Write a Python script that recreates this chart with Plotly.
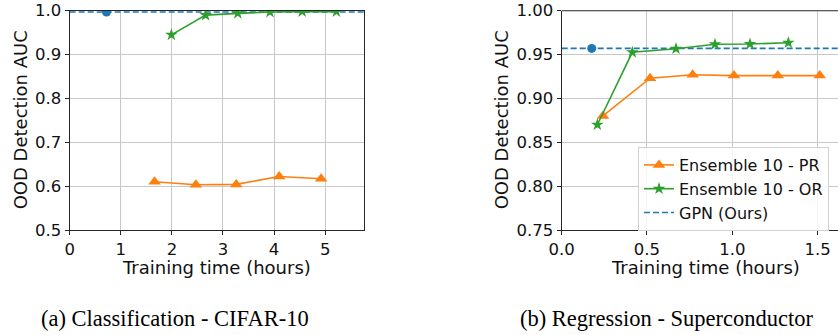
import plotly.graph_objects as go

# ---------------- data ----------------
# (a) Classification - CIFAR-10
a_pr_x = [1.66, 2.47, 3.26, 4.10, 4.92]
a_pr_y = [0.610, 0.603, 0.604, 0.622, 0.617]
a_or_x = [1.99, 2.66, 3.29, 3.92, 4.55, 5.22]
a_or_y = [0.945, 0.990, 0.994, 0.997, 0.998, 0.998]
a_gpn_x = [0.72]
a_gpn_y = [0.997]

# (b) Regression - Superconductor
b_pr_x = [0.242, 0.518, 0.768, 1.010, 1.267, 1.513]
b_pr_y = [0.880, 0.923, 0.927, 0.926, 0.926, 0.926]
b_or_x = [0.209, 0.414, 0.670, 0.899, 1.104, 1.329]
b_or_y = [0.870, 0.9526, 0.9567, 0.9617, 0.962, 0.9635]
b_gpn_x = [0.176]
b_gpn_y = [0.957]

a_xticks = [0, 1, 2, 3, 4, 5]
a_yticks = [0.5, 0.6, 0.7, 0.8, 0.9, 1.0]
b_xticks = [0.0, 0.5, 1.0, 1.5]
b_yticks = [0.75, 0.80, 0.85, 0.90, 0.95, 1.00]

labels = ["Ensemble 10 - PR", "Ensemble 10 - OR", "GPN (Ours)"]
captions = ["(a) Classification - CIFAR-10", "(b) Regression - Superconductor"]
x_title = "Training time (hours)"
y_title = "OOD Detection AUC"

a_xrange = [0, 5.76]
a_yrange = [0.5, 1.0]
b_xrange = [0, 1.62]
b_yrange = [0.75, 1.0]

ORANGE = "#ff7f0e"
GREEN = "#2ca02c"
BLUE = "#1f77b4"

W, H = 838, 335
FONT = "DejaVu Sans"
TICK_SIZE = 16.5
TITLE_SIZE = 18
LEG_SIZE = 16

fig = go.Figure()

def add_panel(xa, ya, pr_x, pr_y, or_x, or_y, gx, gy, xr, showleg):
    fig.add_trace(go.Scatter(
        x=[xr[0], xr[1]], y=[gy[0], gy[0]], mode="lines",
        line=dict(color=BLUE, width=1.6, dash="6px,3px"),
        xaxis=xa, yaxis=ya, name=labels[2], showlegend=False))
    fig.add_trace(go.Scatter(
        x=pr_x, y=pr_y, mode="lines+markers",
        line=dict(color=ORANGE, width=1.6),
        marker=dict(symbol="triangle-up", size=11, color=ORANGE),
        xaxis=xa, yaxis=ya, name=labels[0], showlegend=showleg, legendrank=1))
    fig.add_trace(go.Scatter(
        x=or_x, y=or_y, mode="lines+markers",
        line=dict(color=GREEN, width=1.6),
        marker=dict(symbol="star", size=9.5, color=GREEN),
        xaxis=xa, yaxis=ya, name=labels[1], showlegend=showleg, legendrank=2))
    fig.add_trace(go.Scatter(
        x=gx, y=gy, mode="markers",
        marker=dict(symbol="circle", size=9, color=BLUE),
        xaxis=xa, yaxis=ya, name=labels[2], showlegend=False))
    if showleg:
        fig.add_trace(go.Scatter(
            x=[None], y=[None], mode="lines",
            line=dict(color=BLUE, width=1.6, dash="6px,3px"),
            xaxis=xa, yaxis=ya, name=labels[2], showlegend=True, legendrank=3))

add_panel("x", "y", a_pr_x, a_pr_y, a_or_x, a_or_y, a_gpn_x, a_gpn_y, a_xrange, False)
add_panel("x2", "y2", b_pr_x, b_pr_y, b_or_x, b_or_y, b_gpn_x, b_gpn_y, b_xrange, True)

# pixel layout
a_left, a_right = 69.7, 364.0
b_left, b_right = 561.7, 838.0
top_px, bot_px = 10.7, 230.0
ydom = [1 - bot_px / H, 1 - top_px / H]

axis_common = dict(
    showgrid=True, gridcolor="#c8c8c8", gridwidth=1,
    zeroline=False, showline=True, linecolor="#262626", linewidth=1.1,
    ticks="outside", ticklen=4, tickwidth=1, tickcolor="#262626",
    tickfont=dict(family=FONT, size=TICK_SIZE, color="#111"),
    automargin=False,
)

fig.update_layout(
    width=W, height=H,
    margin=dict(l=0, r=0, t=0, b=0),
    paper_bgcolor="white", plot_bgcolor="white",
    font=dict(family=FONT, color="#111"),
    xaxis=dict(domain=[a_left / W, a_right / W], range=a_xrange, tickvals=a_xticks,
               tickformat="d", mirror=True, anchor="y", **axis_common),
    yaxis=dict(domain=ydom, range=a_yrange, tickvals=a_yticks, tickformat=".1f",
               mirror=True, anchor="x", **axis_common),
    xaxis2=dict(domain=[b_left / W, b_right / W], range=b_xrange, tickvals=b_xticks,
                tickformat=".1f", anchor="y2", **axis_common),
    yaxis2=dict(domain=ydom, range=b_yrange, tickvals=b_yticks, tickformat=".2f",
                anchor="x2", **axis_common),
    legend=dict(
        x=638 / W, y=1 - 147 / H, xanchor="left", yanchor="top",
        bgcolor="rgba(255,255,255,0.85)", bordercolor="#d0d0d0", borderwidth=1,
        font=dict(family=FONT, size=LEG_SIZE, color="#111"),
        tracegroupgap=0,
    ),
    showlegend=True,
)

# top spine of right panel (no right spine visible in the crop)
fig.add_shape(type="line", xref="x2 domain", yref="y2 domain",
              x0=0, x1=1, y0=1, y1=1, line=dict(color="#262626", width=1.1))

# axis titles
for cx in [(a_left + a_right) / 2, 705]:
    fig.add_annotation(text=x_title, x=cx / W, y=1 - 267 / H, xref="paper", yref="paper",
                       xanchor="center", yanchor="middle", showarrow=False,
                       font=dict(family=FONT, size=TITLE_SIZE, color="#111"))
for cx in [20, 501]:
    fig.add_annotation(text=y_title, x=cx / W, y=1 - (top_px + bot_px) / 2 / H,
                       xref="paper", yref="paper", textangle=-90,
                       xanchor="center", yanchor="middle", showarrow=False,
                       font=dict(family=FONT, size=TITLE_SIZE, color="#111"))

# captions
for cap, cx in zip(captions, [175, 667]):
    fig.add_annotation(text=cap, x=cx / W, y=1 - 318 / H, xref="paper", yref="paper",
                       xanchor="center", yanchor="middle", showarrow=False,
                       font=dict(family="Liberation Serif", size=22.5, color="#000"))

fig.write_html(
    "out.html",
    config={"displayModeBar": False},
    post_script="document.body.style.margin='0';document.body.style.overflow='hidden';",
)
